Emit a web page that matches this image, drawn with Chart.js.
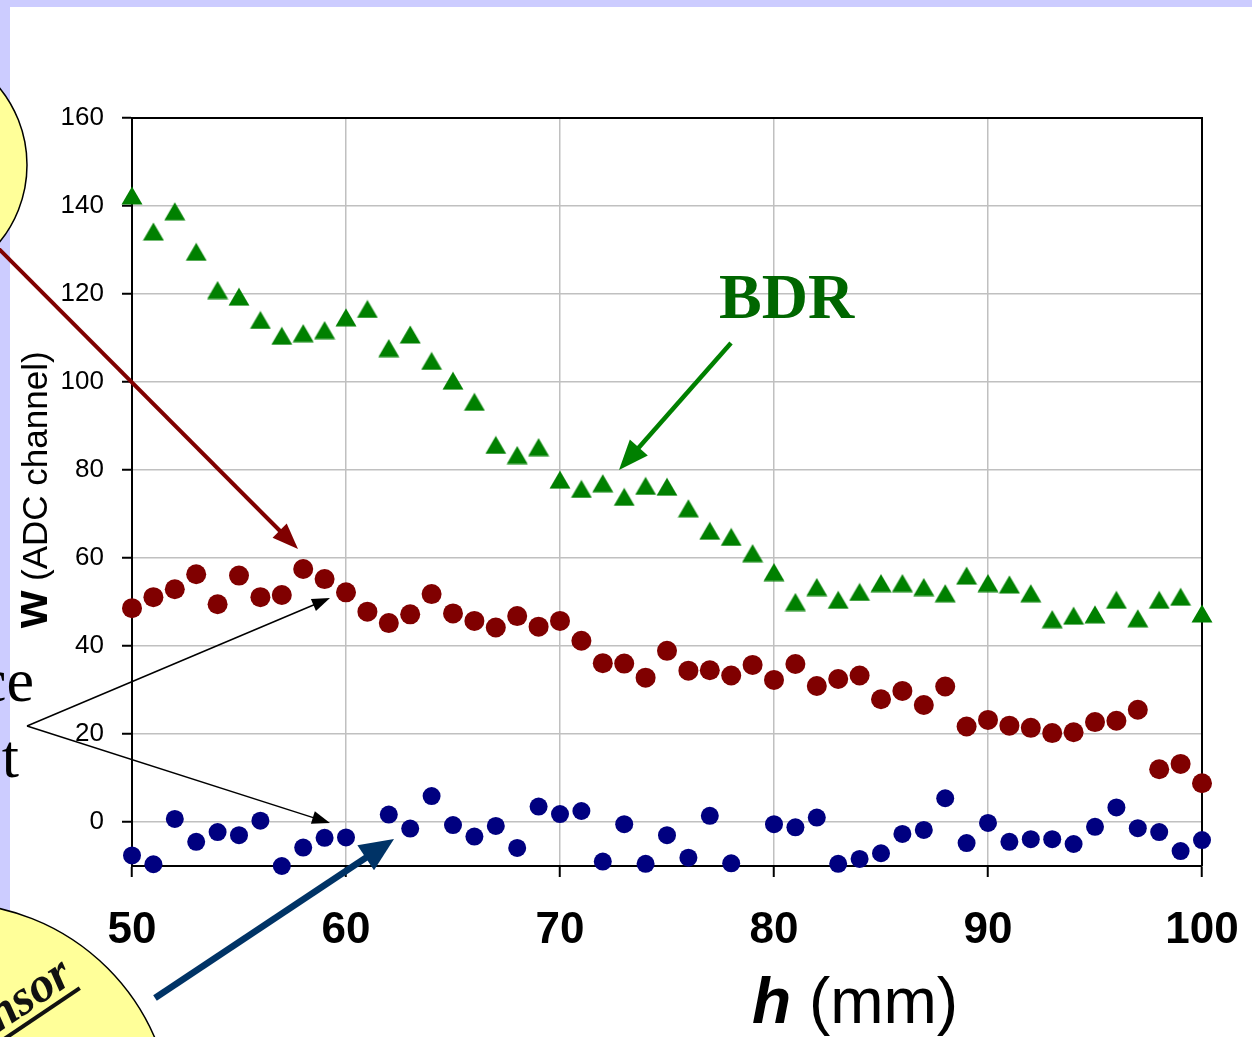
<!DOCTYPE html>
<html>
<head>
<meta charset="utf-8">
<script src="https://cdn.jsdelivr.net/npm/chart.js@4.4.1/dist/chart.umd.min.js"></script>
<style>
  html, body { margin: 0; padding: 0; background: #fff; }
  canvas { display: block; }
</style>
</head>
<body>
<canvas id="chart" width="1252" height="1037"></canvas>
<script>
// h (mm) positions, one reading per mm
const hValues = [50, 51, 52, 53, 54, 55, 56, 57, 58, 59,
                 60, 61, 62, 63, 64, 65, 66, 67, 68, 69,
                 70, 71, 72, 73, 74, 75, 76, 77, 78, 79,
                 80, 81, 82, 83, 84, 85, 86, 87, 88, 89,
                 90, 91, 92, 93, 94, 95, 96, 97, 98, 99, 100];

// BDR (green triangles)
const bdrW = [142.4, 134.2, 138.8, 129.6, 120.9, 119.4, 114.1, 110.5, 111.1, 111.8,
              114.7, 116.6, 107.7, 110.8, 104.8, 100.3, 95.5, 85.7, 83.4, 85.2,
              77.8, 75.7, 77.0, 73.9, 76.4, 76.2, 71.3, 66.2, 64.8, 61.1,
              56.8, 50.0, 53.4, 50.5, 52.3, 54.3, 54.3, 53.4, 52.0, 56.0,
              54.3, 54.0, 52.0, 46.1, 46.9, 47.2, 50.5, 46.3, 50.5, 51.2, 47.4];

// reference (dark red dots)
const refW = [48.6, 51.1, 52.9, 56.3, 49.5, 56.0, 51.1, 51.6, 57.5, 55.2,
              52.2, 47.8, 45.2, 47.2, 51.8, 47.4, 45.7, 44.2, 46.8, 44.4,
              45.7, 41.2, 36.1, 36.0, 32.8, 38.9, 34.4, 34.5, 33.3, 35.7,
              32.3, 35.9, 30.9, 32.5, 33.3, 27.9, 29.8, 26.6, 30.8, 21.7,
              23.2, 21.9, 21.4, 20.2, 20.4, 22.7, 23.0, 25.5, 12.0, 13.2, 8.8];

// sensor (navy dots) - two readings fall below the axis and are not shown
const sensorW = [-7.6, -9.6, 0.7, -4.5, -2.3, -3.0, 0.3, -10.0, -5.8, -3.6,
                 -3.5, null, 1.7, -1.5, 5.9, -0.7, -3.3, -0.9, -5.9, 3.5,
                 1.8, 2.5, -9.0, -0.5, -9.5, -3.0, -8.1, 1.4, -9.4, null,
                 -0.5, -1.2, 1.0, -9.5, -8.4, -7.1, -2.7, -1.8, 5.4, -4.8,
                 -0.2, -4.5, -3.9, -3.9, -5.0, -1.1, 3.3, -1.4, -2.3, -6.6, -4.1];

const xTicks = [50, 60, 70, 80, 90, 100];
const yTicks = [0, 20, 40, 60, 80, 100, 120, 140, 160];

const SANS = '"Liberation Sans", Arial, sans-serif';
const SERIF = '"Liberation Serif", "Times New Roman", serif';

function toPoints(vals) {
  return hValues.map((h, i) => ({ x: h, y: vals[i] }));
}

// triangle marker centred on its box, like the spreadsheet one
const tri = document.createElement('canvas');
tri.width = 22; tri.height = 19;
{
  const t = tri.getContext('2d');
  t.fillStyle = '#008000';
  t.beginPath();
  t.moveTo(11, 0.5);
  t.lineTo(21.5, 18.5);
  t.lineTo(0.5, 18.5);
  t.closePath();
  t.fill();
}

function arrow(ctx, x1, y1, x2, y2, color, width, headLen, headW) {
  const a = Math.atan2(y2 - y1, x2 - x1);
  const bx = x2 - Math.cos(a) * headLen, by = y2 - Math.sin(a) * headLen;
  ctx.save();
  ctx.strokeStyle = color;
  ctx.fillStyle = color;
  ctx.lineWidth = width;
  ctx.lineCap = 'butt';
  ctx.beginPath();
  ctx.moveTo(x1, y1);
  ctx.lineTo(bx + Math.cos(a) * 2, by + Math.sin(a) * 2);
  ctx.stroke();
  ctx.beginPath();
  ctx.moveTo(x2, y2);
  ctx.lineTo(bx + Math.sin(a) * headW / 2, by - Math.cos(a) * headW / 2);
  ctx.lineTo(bx - Math.sin(a) * headW / 2, by + Math.cos(a) * headW / 2);
  ctx.closePath();
  ctx.fill();
  ctx.restore();
}

const backdrop = {
  id: 'backdrop',
  beforeDraw(chart) {
    const ctx = chart.ctx;
    ctx.save();
    ctx.fillStyle = '#ffffff';
    ctx.fillRect(0, 0, chart.width, chart.height);
    ctx.fillStyle = '#ccccff';
    ctx.fillRect(0, 0, chart.width, 7);
    ctx.fillRect(0, 0, 10, chart.height);
    ctx.restore();
  }
};

const frame = {
  id: 'frame',
  beforeDatasetsDraw(chart) {
    const { ctx, chartArea: a } = chart;
    ctx.save();
    ctx.strokeStyle = '#000';
    ctx.lineWidth = 2;
    ctx.beginPath();
    ctx.moveTo(a.left, a.top);
    ctx.lineTo(a.right, a.top);
    ctx.lineTo(a.right, a.bottom);
    ctx.stroke();
    ctx.restore();
  }
};

const notes = {
  id: 'notes',
  afterDraw(chart) {
    const ctx = chart.ctx;
    ctx.save();

    // axis titles
    ctx.fillStyle = '#000';
    ctx.textBaseline = 'alphabetic';
    ctx.textAlign = 'left';
    ctx.font = 'italic bold 64px ' + SANS;
    ctx.fillText('h', 752, 1023);
    const hw = ctx.measureText('h').width;
    ctx.font = '64px ' + SANS;
    ctx.fillText(' (mm)', 752 + hw, 1023);

    ctx.save();
    ctx.translate(47, 628);
    ctx.rotate(-Math.PI / 2);
    ctx.font = 'bold 48px ' + SANS;
    ctx.fillText('w', 0, 0);
    const ww = ctx.measureText('w').width;
    ctx.font = '35px ' + SANS;
    ctx.fillText(' (ADC channel)', ww, 0);
    ctx.restore();

    // top-left bubble and its arrow
    ctx.fillStyle = '#ffff99';
    ctx.strokeStyle = '#000';
    ctx.lineWidth = 1.5;
    ctx.beginPath();
    ctx.arc(-95, 165, 122, 0, Math.PI * 2);
    ctx.fill();
    ctx.stroke();
    arrow(ctx, -4, 246, 298, 549, '#800000', 4, 26, 20);

    // BDR label
    ctx.fillStyle = '#006600';
    ctx.font = 'bold 64px ' + SERIF;
    ctx.textAlign = 'left';
    ctx.fillText('BDR', 719, 318);
    arrow(ctx, 731, 343, 619, 470, '#008000', 4.5, 30, 24);

    // left text fragments and thin arrows
    ctx.fillStyle = '#000';
    ctx.font = '62px ' + SERIF;
    ctx.textAlign = 'right';
    ctx.fillText('ce', 34, 701);
    ctx.fillText('t', 19, 777);
    arrow(ctx, 27, 726, 330, 598, '#000', 1.5, 18, 13);
    arrow(ctx, 27, 726, 330, 823, '#000', 1.5, 18, 13);

    // bottom-left bubble
    ctx.fillStyle = '#ffff99';
    ctx.strokeStyle = '#000';
    ctx.lineWidth = 1.5;
    ctx.beginPath();
    ctx.arc(-50, 1126, 223, 0, Math.PI * 2);
    ctx.fill();
    ctx.stroke();
    ctx.save();
    ctx.translate(75, 981);
    ctx.rotate(-34 * Math.PI / 180);
    ctx.fillStyle = '#111';
    ctx.font = 'italic bold 50px ' + SERIF;
    ctx.textAlign = 'right';
    ctx.fillText('Sensor', 0, 0);
    const sw = ctx.measureText('Sensor').width;
    ctx.fillRect(-sw, 6.5, sw, 4);
    ctx.restore();
    arrow(ctx, 155, 998, 394, 839, '#003366', 6.5, 34, 30);

    ctx.restore();
  }
};

new Chart(document.getElementById('chart').getContext('2d'), {
  type: 'scatter',
  data: {
    datasets: [
      { label: 'BDR', data: toPoints(bdrW), pointStyle: tri, pointRadius: 11,
        backgroundColor: '#008000', borderWidth: 0, clip: false },
      { label: 'reference', data: toPoints(refW), pointStyle: 'circle', pointRadius: 10,
        backgroundColor: '#800000', borderColor: '#800000', borderWidth: 0, clip: false },
      { label: 'sensor', data: toPoints(sensorW), pointStyle: 'circle', pointRadius: 9,
        backgroundColor: '#000080', borderColor: '#000080', borderWidth: 0, clip: false }
    ]
  },
  options: {
    responsive: false,
    animation: false,
    devicePixelRatio: 1,
    events: [],
    layout: { padding: { top: 118, right: 50, left: 0, bottom: 0 } },
    plugins: { legend: { display: false }, tooltip: { enabled: false } },
    scales: {
      x: {
        type: 'linear',
        min: 50, max: 100,
        afterBuildTicks: s => { s.ticks = xTicks.map(v => ({ value: v })); },
        afterFit: s => { s.height = 171; s.paddingLeft = 0; s.paddingRight = 0; },
        grid: { color: '#c0c0c0', lineWidth: 1.5, tickColor: '#000', tickLength: 11, tickWidth: 2 },
        border: { color: '#000', width: 2 },
        ticks: { color: '#000', padding: 27, maxRotation: 0,
                 font: { family: SANS, size: 44, weight: 'bold' } }
      },
      y: {
        type: 'linear',
        min: -10, max: 160,
        afterBuildTicks: s => { s.ticks = yTicks.map(v => ({ value: v })); },
        afterFit: s => { s.width = 132; },
        grid: { color: '#c0c0c0', lineWidth: 1.5, tickColor: '#000', tickLength: 10, tickWidth: 2 },
        border: { color: '#000', width: 2 },
        ticks: { color: '#000', padding: 18,
                 font: { family: SANS, size: 26 } }
      }
    }
  },
  plugins: [backdrop, frame, notes]
});
</script>
</body>
</html>
